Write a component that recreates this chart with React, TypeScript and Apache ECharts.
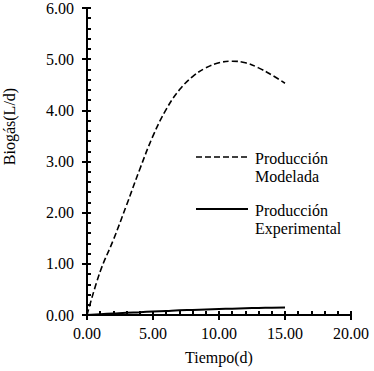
import React, { useEffect, useRef } from "react";
import * as echarts from "echarts";

const days = [0, 1, 2, 3, 4, 5, 6, 7, 8, 9, 10, 11, 12, 13, 14, 15];
const modelada = [0.0, 0.85, 1.47, 2.15, 2.85, 3.5, 4.02, 4.4, 4.66, 4.83, 4.93, 4.96, 4.93, 4.83, 4.69, 4.53];
const experimental = [0.0, 0.015, 0.03, 0.045, 0.055, 0.068, 0.08, 0.092, 0.1, 0.108, 0.116, 0.124, 0.132, 0.138, 0.143, 0.147];
const legendNames = ["Producción\nModelada", "Producción\nExperimental"];
const xName = "Tiempo(d)";
const yName = "Biogás(L/d)";

const FONT = "Liberation Serif";

export default function App() {
  const ref = useRef<HTMLDivElement>(null);
  useEffect(() => {
    if (!ref.current) return;
    const chart = echarts.init(ref.current, undefined, { renderer: "svg" });
    const modelData = days.map((d, i) => [d, modelada[i]]);
    const expData = days.map((d, i) => [d, experimental[i]]);
    const base = { fontSize: 16, fontWeight: "normal", color: "#000", fontFamily: FONT };
    chart.setOption({
      animation: false,
      backgroundColor: "#fff",
      grid: { left: 87, right: 23, top: 8, bottom: 56, containLabel: false, outerBoundsMode: "none" },
      xAxis: [
        {
          type: "value",
          min: 0,
          max: 20,
          interval: 5,
          name: xName,
          nameLocation: "middle",
          nameGap: 34,
          nameTextStyle: base,
          axisLine: { show: true, lineStyle: { color: "#000", width: 2 } },
          axisTick: { show: true, inside: true, length: 4, lineStyle: { color: "#000", width: 2 } },
          minorTick: { show: true, splitNumber: 5, length: 4, lineStyle: { color: "#000", width: 2 } },
          axisLabel: { ...base, margin: 10, formatter: (v: number) => v.toFixed(2) },
          splitLine: { show: false },
          minorSplitLine: { show: false },
        },
        {
          type: "value",
          min: 0,
          max: 20,
          interval: 5,
          position: "bottom",
          axisLine: { show: false },
          axisTick: { show: true, inside: false, length: 5, lineStyle: { color: "#000", width: 2 } },
          axisLabel: { show: false },
          splitLine: { show: false },
        },
      ],
      yAxis: [
        {
          type: "value",
          min: 0,
          max: 6,
          interval: 1,
          name: yName,
          nameLocation: "middle",
          nameGap: 70,
          nameTextStyle: { ...base, padding: [0, 0, 0, 70] },
          axisLine: { show: true, lineStyle: { color: "#000", width: 2 } },
          axisTick: { show: true, inside: true, length: 4, lineStyle: { color: "#000", width: 2 } },
          minorTick: { show: true, splitNumber: 5, length: 4, lineStyle: { color: "#000", width: 2 } },
          axisLabel: { ...base, margin: 13, formatter: (v: number) => v.toFixed(2) },
          splitLine: { show: false },
          minorSplitLine: { show: false },
        },
        {
          type: "value",
          min: 0,
          max: 6,
          interval: 1,
          position: "left",
          axisLine: { show: false },
          axisTick: { show: true, inside: false, length: 5, lineStyle: { color: "#000", width: 2 } },
          axisLabel: { show: false },
          splitLine: { show: false },
        },
      ],
      series: [
        {
          name: "Producción Modelada",
          type: "line",
          data: modelData,
          smooth: 0.4,
          showSymbol: false,
          symbol: "none",
          lineStyle: { color: "#000", width: 1.6, type: [6, 3] },
        },
        {
          name: "Producción Experimental",
          type: "line",
          data: expData,
          smooth: true,
          showSymbol: false,
          symbol: "none",
          lineStyle: { color: "#000", width: 2 },
        },
      ],
      graphic: [
        {
          type: "line",
          shape: { x1: 196, y1: 157, x2: 248, y2: 157 },
          style: { stroke: "#000", lineWidth: 1.6, lineDash: [6, 3] },
        },
        {
          type: "text",
          x: 255,
          y: 149,
          style: { text: legendNames[0], fontFamily: FONT, fontSize: 16, fill: "#000", lineHeight: 18 },
        },
        {
          type: "line",
          shape: { x1: 196, y1: 209, x2: 248, y2: 209 },
          style: { stroke: "#000", lineWidth: 2 },
        },
        {
          type: "text",
          x: 255,
          y: 201,
          style: { text: legendNames[1], fontFamily: FONT, fontSize: 16, fill: "#000", lineHeight: 18 },
        },
      ],
    });
    return () => chart.dispose();
  }, []);
  return <div ref={ref} style={{ width: 374, height: 371, position: "absolute", left: 0, top: 0 }} />;
}
